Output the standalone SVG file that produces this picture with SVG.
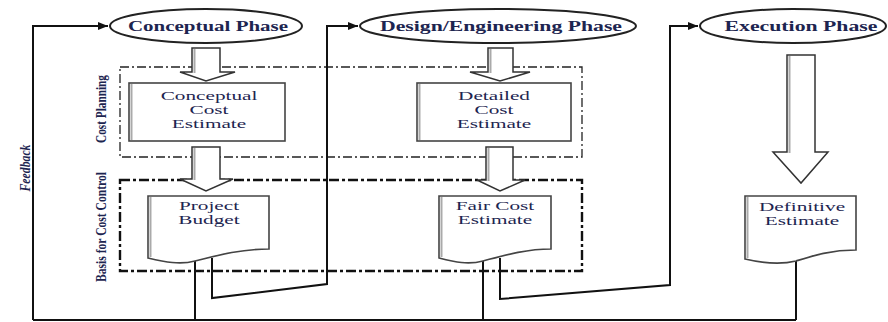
<svg xmlns="http://www.w3.org/2000/svg" width="888" height="322" viewBox="0 0 888 322">
<style>
  .bg{fill:#fff}
  .ell{fill:#fff;stroke:#222;stroke-width:2}
  .ph{font-family:"Liberation Serif","Times New Roman","DejaVu Serif",serif;font-weight:bold;font-size:15px;fill:#1d2550;text-anchor:middle}
  .tx{font-family:"Liberation Serif","Times New Roman","DejaVu Serif",serif;font-size:12.5px;fill:#1d2550;text-anchor:middle}
  .side{font-family:"Liberation Serif","Times New Roman","DejaVu Serif",serif;font-weight:bold;font-size:14px;fill:#1d2550;text-anchor:middle}
  .box{fill:#fff;stroke:#444;stroke-width:1.6}
  .shadow{fill:none;stroke:#aaa;stroke-width:2}
  .blk{fill:#fff;stroke:#333;stroke-width:1.5;stroke-linejoin:miter}
  .ln{fill:none;stroke:#111;stroke-width:2}
  .cp{fill:none;stroke:#222;stroke-width:1.3;stroke-dasharray:9 3 2 3}
  .bc{fill:none;stroke:#111;stroke-width:2.4;stroke-dasharray:10 3 3 3}
</style>
<defs>
  <marker id="ah" viewBox="0 0 10 10" refX="10" refY="5" markerWidth="5" markerHeight="5" orient="auto" markerUnits="strokeWidth">
    <path d="M0,1 L10,5 L0,9 Z" fill="#111"/>
  </marker>
</defs>
<rect class="bg" x="0" y="0" width="888" height="322"/>

<g id="groups">
  <rect id="cost-planning" class="cp" x="120" y="67" width="462" height="90"/>
  <rect id="basis-cost-control" class="bc" x="120" y="180" width="462" height="91"/>
  <text class="side" transform="translate(106,109) rotate(-90)" textLength="68" lengthAdjust="spacingAndGlyphs">Cost Planning</text>
  <text class="side" transform="translate(106,227) rotate(-90)" textLength="110" lengthAdjust="spacingAndGlyphs">Basis for Cost Control</text>
  <text class="side" font-style="italic" transform="translate(30,168) rotate(-90)" textLength="47" lengthAdjust="spacingAndGlyphs">Feedback</text>
</g>

<g id="connectors">
  <path class="ln" d="M33,320 V26 H108" marker-end="url(#ah)"/>
  <path class="ln" d="M33,320 H796"/>
  <path class="ln" d="M195,261 V320"/>
  <path class="ln" d="M212,258 V298 L327,284 V26 H358" marker-end="url(#ah)"/>
  <path class="ln" d="M483,261 V320"/>
  <path class="ln" d="M500,258 V299 L670,285 V26 H698" marker-end="url(#ah)"/>
  <path class="ln" d="M796,261 V320"/>
  <g id="block-arrows">
    <path class="blk" d="M192,48 H220 V72 H235 L206,81 L180,72 H192 Z"/>
    <path class="shadow" d="M194.5,49 V73"/>
    <path class="blk" d="M488,48 H513 V72 H530 L500,81 L470,72 H488 Z"/>
    <path class="shadow" d="M490.5,49 V73"/>
    <path class="blk" d="M192,147 H220 V179 H233 L206,191 L180,179 H192 Z"/>
    <path class="shadow" d="M194.5,148 V180"/>
    <path class="blk" d="M486,147 H513 V180 H525 L500,191 L477,180 H486 Z"/>
    <path class="shadow" d="M488.5,148 V181"/>
    <path class="blk" d="M787,55 H815 V152 H828 L801,183 L773,152 H787 Z"/>
    <path class="shadow" d="M789.5,56 V153"/>
  </g>
</g>

<g id="conceptual-phase">
  <ellipse class="ell" cx="206" cy="26" rx="96" ry="17"/>
  <text class="ph" x="208" y="31" textLength="160" lengthAdjust="spacingAndGlyphs">Conceptual Phase</text>
</g>
<g id="design-phase">
  <ellipse class="ell" cx="498" cy="26" rx="138" ry="17"/>
  <text class="ph" x="501" y="31" textLength="242" lengthAdjust="spacingAndGlyphs">Design/Engineering Phase</text>
</g>
<g id="execution-phase">
  <ellipse class="ell" cx="793" cy="26" rx="93" ry="17"/>
  <text class="ph" x="801" y="31" textLength="153" lengthAdjust="spacingAndGlyphs">Execution Phase</text>
</g>

<g id="conceptual-cost-estimate">
  <rect class="box" x="129" y="83" width="156" height="58"/>
  <path class="shadow" d="M131.5,84 V140"/>
  <g transform="translate(209,0) scale(1.7,1)">
    <text class="tx" x="0" y="100">Conceptual</text>
    <text class="tx" x="0" y="114">Cost</text>
    <text class="tx" x="0" y="128">Estimate</text>
  </g>
</g>
<g id="detailed-cost-estimate">
  <rect class="box" x="417" y="83" width="154" height="58"/>
  <path class="shadow" d="M419.5,84 V140"/>
  <g transform="translate(494,0) scale(1.7,1)">
    <text class="tx" x="0" y="100">Detailed</text>
    <text class="tx" x="0" y="114">Cost</text>
    <text class="tx" x="0" y="128">Estimate</text>
  </g>
</g>

<g id="project-budget">
  <path class="box" d="M148,196 H269 V249 C240,249 215,256 195,261 C180,265 165,262 148,258 Z"/>
  <path class="shadow" d="M150.5,197 V257"/>
  <g transform="translate(209,0) scale(1.7,1)">
    <text class="tx" x="0" y="210">Project</text>
    <text class="tx" x="0" y="224">Budget</text>
  </g>
</g>
<g id="fair-cost-estimate">
  <path class="box" d="M439,196 H551 V249 C525,249 502,256 483,261 C468,265 455,262 439,258 Z"/>
  <path class="shadow" d="M441.5,197 V257"/>
  <g transform="translate(495,0) scale(1.7,1)">
    <text class="tx" x="0" y="210">Fair Cost</text>
    <text class="tx" x="0" y="224">Estimate</text>
  </g>
</g>
<g id="definitive-estimate">
  <path class="box" d="M745,196 H856 V250 C830,250 812,256 796,261 C780,265 762,263 745,259 Z"/>
  <path class="shadow" d="M747.5,197 V258"/>
  <g transform="translate(802,0) scale(1.7,1)">
    <text class="tx" x="0" y="211">Definitive</text>
    <text class="tx" x="0" y="225">Estimate</text>
  </g>
</g>
</svg>
